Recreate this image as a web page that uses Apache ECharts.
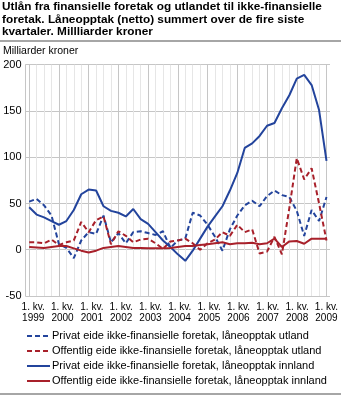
<!DOCTYPE html>
<html><head><meta charset="utf-8">
<script src="https://cdn.jsdelivr.net/npm/echarts@6/dist/echarts.min.js"></script>
<style>html,body{margin:0;padding:0;background:#fff}#c{width:341px;height:396px}</style>
</head><body><div id="c"></div>
<script>
const quarters = ['1999K1','1999K2','1999K3','1999K4','2000K1','2000K2','2000K3','2000K4',
'2001K1','2001K2','2001K3','2001K4','2002K1','2002K2','2002K3','2002K4',
'2003K1','2003K2','2003K3','2003K4','2004K1','2004K2','2004K3','2004K4',
'2005K1','2005K2','2005K3','2005K4','2006K1','2006K2','2006K3','2006K4',
'2007K1','2007K2','2007K3','2007K4','2008K1','2008K2','2008K3','2008K4','2009K1'];
const yTicks = [-50, 0, 50, 100, 150, 200];
const privatUtland = [52,55,48,37,6,2,-9,10,19,17,37,8,18,7,19,20,18,16,20,2,10,12,40,37,27,14,-1,22,37,48,53,47,58,64,59,57,42,15,43,31,57];
const offentligUtland = [8,8,7,11,5,8,10,30,19,32,36,6,20,15,8,11,12,7,1,9,10,12,7,0,7,11,19,15,27,19,22,-4,-2,14,-5,45,99,76,88,50,10];
const privatInnland = [46,38,35,31,27,31,43,60,65,64,47,42,40,36,44,33,28,19,10,3,-5,-12,-1,12,25,36,47,64,83,110,115,123,134,137,153,167,185,189,178,151,96];
const offentligInnland = [3,2.5,2,3,4,4,1.5,-1,-3,-1,2,3,4,3,2,2,1.5,1.5,1.5,2,3,4,4,5,6,7,8,6,7,7,7.5,6,7,12,3,9,9.5,6.5,12,12,12];
const names = ['Privat eide ikke-finansielle foretak, låneopptak utland',
'Offentlig eide ikke-finansielle foretak, låneopptak utland',
'Privat eide ikke-finansielle foretak, låneopptak innland',
'Offentlig eide ikke-finansielle foretak, låneopptak innland'];
const titleText = 'Utlån fra finansielle foretak og utlandet til ikke-finansielle\nforetak. Låneopptak (netto) summert over de fire siste\nkvartaler. Millliarder kroner';
const unitText = 'Milliarder kroner';

const BLUE = '#23449c', RED = '#a8202a';
const F = '"Liberation Sans", Arial, sans-serif';
const chart = echarts.init(document.getElementById('c'));
const mk = (name, data, color, dashed) => ({
  name, type:'line', data, xAxisIndex:1, yAxisIndex:1, symbol:'none', showSymbol:false,
  lineStyle:{color, width:2, type: dashed ? [5,3] : 'solid'}, itemStyle:{color}
});
const yRange = {min:yTicks[0], max:yTicks[yTicks.length-1], interval:50};
chart.setOption({
  animation:false,
  title:{text:titleText, left:2, top:1, padding:0, textStyle:{fontFamily:F, fontWeight:'bold', fontSize:11.8, lineHeight:12.3, color:'#000'}},
  graphic:[
    {type:'rect', shape:{x:0, y:40, width:341, height:2}, style:{fill:'#a6a6a6'}},
    {type:'rect', shape:{x:0, y:393, width:341, height:2}, style:{fill:'#a6a6a6'}},
    {type:'text', left:3, top:46, style:{text:unitText, font:'10.5px "Liberation Sans", Arial, sans-serif', fill:'#000'}}
  ],
  grid:[{left:25.5, right:11, top:64.7, bottom:100},
        {left:29.2, right:14.5, top:64.7, bottom:100},
        {left:33.2, right:10.5, top:64.7, bottom:100}],
  xAxis:[
    {gridIndex:0, type:'value', min:0, max:1, show:false},
    {gridIndex:1, type:'category', data:quarters, boundaryGap:false,
     axisLine:{show:false}, axisTick:{show:false}, axisLabel:{show:false},
     splitLine:{show:true, interval:0, lineStyle:{color:['#c6c6c6','#e6e6e6','#e6e6e6','#e6e6e6'], width:1}}},
    {gridIndex:2, type:'category', data:quarters, boundaryGap:false,
     axisLine:{show:false}, axisTick:{show:false}, splitLine:{show:false},
     axisLabel:{interval:3, showMinLabel:true, showMaxLabel:true, margin:6, fontFamily:F, fontSize:10, lineHeight:11, color:'#000',
       formatter:v => v.endsWith('K1') ? '1. kv.\n' + v.slice(0,4) : ''}}
  ],
  yAxis:[
    Object.assign({gridIndex:0, type:'value',
     axisLine:{show:true, lineStyle:{color:'#c6c6c6'}}, axisTick:{show:false},
     axisLabel:{margin:4, fontFamily:F, fontSize:11, color:'#000'},
     splitLine:{lineStyle:{color:'#c6c6c6', width:1}}}, yRange),
    Object.assign({gridIndex:1, type:'value', show:false}, yRange),
    Object.assign({gridIndex:2, type:'value', show:false}, yRange)
  ],
  legend:{orient:'vertical', left:26, top:329.5, padding:0, itemWidth:23, itemHeight:10, itemGap:2,
    itemStyle:{opacity:0},
    textStyle:{fontFamily:F, fontSize:11, lineHeight:13, color:'#000', padding:[0,0,0,-3]}, data:names},
  series:[
    mk(names[0], privatUtland, BLUE, true),
    mk(names[1], offentligUtland, RED, true),
    mk(names[2], privatInnland, BLUE, false),
    mk(names[3], offentligInnland, RED, false)
  ]
});
</script></body></html>
